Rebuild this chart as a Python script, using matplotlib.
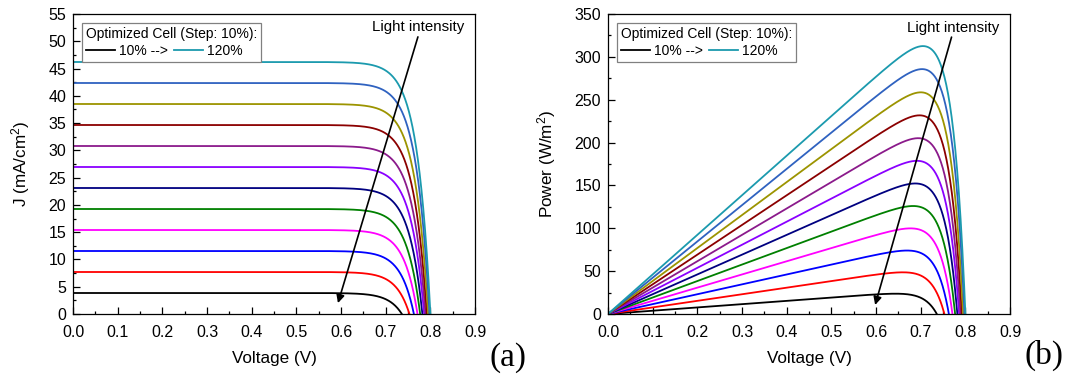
import numpy as np
import matplotlib
matplotlib.use('Agg')
import matplotlib.pyplot as plt
from matplotlib.lines import Line2D
from matplotlib.ticker import MultipleLocator

plt.rcParams['font.family'] = ['Liberation Sans', 'DejaVu Sans']
plt.rcParams['mathtext.fontset'] = 'custom'
plt.rcParams['mathtext.rm'] = 'Liberation Sans'
plt.rcParams['mathtext.it'] = 'Liberation Sans:italic'

# light intensity steps (10% .. 120%)
intensity = [10, 20, 30, 40, 50, 60, 70, 80, 90, 100, 110, 120]
# short-circuit current density, mA/cm2
jsc = [3.85, 7.7, 11.55, 15.4, 19.25, 23.1, 26.95, 30.8, 34.65, 38.5, 42.35, 46.2]
# open-circuit voltage, V
voc = [0.736, 0.753, 0.763, 0.771, 0.777, 0.782, 0.786, 0.789, 0.792, 0.795, 0.798, 0.800]
# diode n*kT/q, V
nvt = 0.0296

colors = ['#000000', '#ff0000', '#0000ff', '#ff00ff', '#008000', '#000080',
          '#8a00ff', '#8b1a8b', '#8b0000', '#9c9400', '#2f62c0', '#1b9aae']

fig = plt.figure(figsize=(10.71, 3.76), dpi=100)
ax1 = fig.add_axes([0.0682, 0.1649, 0.3754, 0.7979])
ax2 = fig.add_axes([0.5677, 0.1649, 0.3754, 0.7979])

for k in range(len(intensity)):
    v = np.linspace(0, voc[k], 600)
    j = jsc[k] * (1 - np.expm1(v / nvt) / np.expm1(voc[k] / nvt))
    ax1.plot(v, j, color=colors[k], lw=1.3)
    ax2.plot(v, j * v * 10, color=colors[k], lw=1.3)

tick_fs = 11.5
lab_fs = 12.3
for ax in (ax1, ax2):
    ax.set_xlim(0, 0.9)
    ax.xaxis.set_major_locator(MultipleLocator(0.1))
    ax.xaxis.set_minor_locator(MultipleLocator(0.05))
    ax.xaxis.set_major_formatter(matplotlib.ticker.FormatStrFormatter('%.1f'))
    ax.tick_params(which='both', direction='in', top=False, right=False,
                   labelsize=tick_fs, width=0.9)
    ax.tick_params(which='major', length=5)
    ax.tick_params(which='minor', length=2.5)
    ax.tick_params(axis='x', which='major', pad=8)
    ax.tick_params(axis='y', which='major', pad=5)
    for s in ax.spines.values():
        s.set_linewidth(0.9)
    ax.set_xlabel('Voltage (V)', fontsize=lab_fs, labelpad=8)

ax1.set_ylim(0, 55)
ax1.yaxis.set_major_locator(MultipleLocator(5))
ax1.yaxis.set_minor_locator(MultipleLocator(2.5))
ax1.set_ylabel('J (mA/cm$^{2}$)', fontsize=lab_fs, labelpad=12)

ax2.set_ylim(0, 350)
ax2.yaxis.set_major_locator(MultipleLocator(50))
ax2.yaxis.set_minor_locator(MultipleLocator(25))
ax2.set_ylabel('Power (W/m$^{2}$)', fontsize=lab_fs, labelpad=12)

# legend box
for ax in (ax1, ax2):
    handles = [Line2D([], [], color=colors[0], lw=1.3),
               Line2D([], [], color=colors[-1], lw=1.3)]
    leg = ax.legend(handles, ['10% -->', '120%'], ncol=2,
                    title='Optimized Cell (Step: 10%):', title_fontsize=10,
                    fontsize=10, loc='upper left', bbox_to_anchor=(0.022, 0.97),
                    borderaxespad=0, alignment='left', fancybox=False,
                    framealpha=1, edgecolor='#808080', handlelength=2.1,
                    handletextpad=0.3, columnspacing=0.4, borderpad=0.3,
                    labelspacing=0.2)
    leg.get_frame().set_linewidth(0.9)

# light intensity arrows
ax1.annotate('', xy=(0.593, 2.0), xytext=(0.772, 50.8),
             arrowprops=dict(arrowstyle='-|>', color='black', lw=1.2,
                             mutation_scale=12, shrinkA=0, shrinkB=0))
ax1.text(0.772, 52.7, 'Light intensity', ha='center', va='center', fontsize=10.8)
ax2.annotate('', xy=(0.598, 10.5), xytext=(0.769, 323),
             arrowprops=dict(arrowstyle='-|>', color='black', lw=1.2,
                             mutation_scale=12, shrinkA=0, shrinkB=0))
ax2.text(0.773, 334, 'Light intensity', ha='center', va='center', fontsize=10.8)

fig.text(0.4575, 0.05, '(a)', family='Liberation Serif', fontsize=24,
         ha='left', va='center')
fig.text(0.957, 0.055, '(b)', family='Liberation Serif', fontsize=24,
         ha='left', va='center')

fig.savefig('out.png', dpi=100)
